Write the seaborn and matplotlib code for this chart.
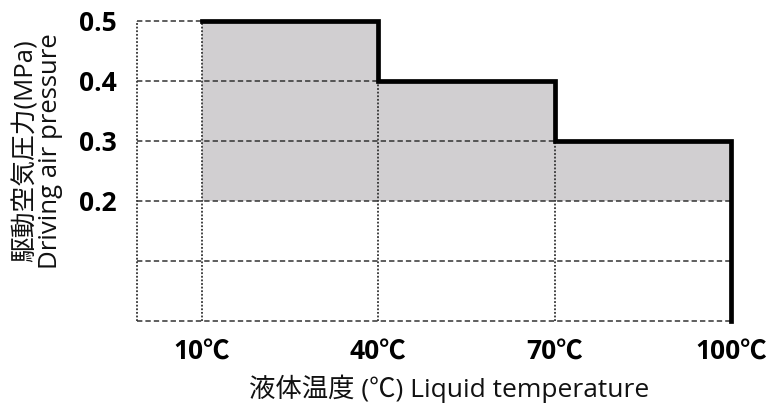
import matplotlib
matplotlib.use("Agg")
import matplotlib.pyplot as plt
import seaborn as sns
import pandas as pd

sns.set_theme(style="white")
FAM = ['Open Sans', 'Noto Sans CJK JP', 'DejaVu Sans']
plt.rcParams['font.family'] = FAM

# Data
temps = [10, 40, 70, 100]                 # temperature breakpoints (°C)
max_pressure = [0.5, 0.4, 0.3]           # upper limit in each interval (MPa)
min_pressure = 0.2                        # lower limit (MPa)
x_tick_labels = ["10℃", "40℃", "70℃", "100℃"]
y_ticks = [0.2, 0.3, 0.4, 0.5]
y_tick_labels = ["0.2", "0.3", "0.4", "0.5"]
grid_y = [0.0, 0.1, 0.2, 0.3, 0.4, 0.5]

W, H = 768, 408
fig = plt.figure(figsize=(W / 100, H / 100), dpi=100)
ax = fig.add_axes([137 / W, 1 - 321 / H, (740 - 137) / W, 300 / H])
x_left = -1.0
ax.set_xlim(x_left, 101.5)
ax.set_ylim(0, 0.5)

# Step path built from the data
step_x, step_y = [], []
for i, p in enumerate(max_pressure):
    step_x += [temps[i], temps[i + 1]]
    step_y += [p, p]
step_x.append(temps[-1])
step_y.append(0.0)

def limit_at(x):
    for i, p in enumerate(max_pressure):
        if x < temps[i + 1]:
            return p
    return 0.0

def edge_at(y):
    xr = temps[0]
    for i, p in enumerate(max_pressure):
        if y <= p:
            xr = temps[i + 1]
    return xr

# Shaded allowable region
for i, p in enumerate(max_pressure):
    ax.fill_between([temps[i], temps[i + 1]], min_pressure, p,
                    color="#d1cfd1", lw=0, zorder=1)

# Grid: dashed horizontals, dotted verticals
for gy in grid_y:
    ax.plot([x_left, edge_at(gy)], [gy, gy], color="#333333", lw=1.1,
            ls=(0, (3.5, 2.0)), zorder=2, clip_on=False)
for gx in [x_left] + temps[:-1]:
    top = 0.5 if gx < temps[0] else limit_at(gx)
    ax.plot([gx, gx], [0, top], color="#333333", lw=1.3,
            ls=(0, (1.0, 1.0)), zorder=2, clip_on=False)

# Thick boundary line via seaborn
df = pd.DataFrame({"temp": step_x, "pressure": step_y})
sns.lineplot(data=df, x="temp", y="pressure", sort=False, estimator=None,
             color="black", lw=3.4, ax=ax, zorder=3, clip_on=False)
for line in ax.lines[-1:]:
    line.set_solid_joinstyle("miter")
    line.set_solid_capstyle("projecting")

ax.set_xticks(temps)
ax.set_xticklabels(x_tick_labels, fontsize=19, fontweight="bold", color="black")
ax.set_yticks(y_ticks)
ax.set_yticklabels(y_tick_labels, fontsize=19, fontweight="bold", color="black")
ax.tick_params(axis="x", length=0, pad=13)
ax.tick_params(axis="y", length=0, pad=14.5)
ax.set_xlabel("")
ax.set_ylabel("")
for s in ax.spines.values():
    s.set_visible(False)
ax.set_facecolor("none")

fig.text(449 / W, 1 - 389 / H, "液体温度 (℃) Liquid temperature",
         ha="center", va="center", fontsize=19, color="#111111")
fig.text(38 / W, 1 - 151 / H, "駆動空気圧力(MPa)\nDriving air pressure",
         ha="center", va="center", rotation=90, fontsize=18.5,
         multialignment="center", linespacing=0.95, color="#111111")

fig.savefig("out.png", dpi=100, facecolor="white")
